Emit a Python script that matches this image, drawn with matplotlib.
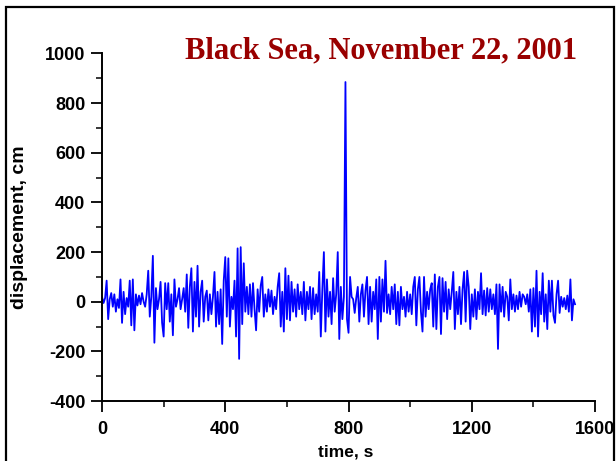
import numpy as np
import matplotlib
matplotlib.use("Agg")
import matplotlib.pyplot as plt
from matplotlib.patches import Rectangle
from matplotlib.ticker import MultipleLocator

# sea level record, one sample every 5 s
dt = 5
disp = [
    20, -5, 15, 85, -70, 10, 35, -20, 30, -40,
    10, -25, 90, -85, 40, -50, 15, -20, 85, -95,
    90, -115, 30, -15, 25, -10, 35, 0, -20, 30,
    125, -60, 20, 185, -165, 55, -30, 10, 80, -85,
    -140, 75, -30, 75, -80, 30, -135, 90, -20, 10,
    55, -30, 10, 55, -40, 110, -105, 60, 135, -120,
    80, -60, 145, -100, 40, 85, -80, 20, 45, -75,
    30, -50, 20, 120, -100, 40, -90, 50, -170, 85,
    180, -60, 175, -100, 20, -30, 85, -140, 215, -230,
    220, -90, 155, -40, 60, -50, 70, -60, 75, -30,
    -115, 50, -40, 65, 100, -60, 30, -40, 50, -20,
    45, -50, 20, -30, 60, 115, -100, 40, -120, 135,
    -70, 105, -75, 80, -40, 50, -60, 70, -30, 40,
    -50, 80, -75, 40, -30, 60, -70, 55, -50, 30,
    -40, 120, -140, 50, 200, -120, 90, -60, 40, -90,
    95, -40, 30, 200, -150, 60, -70, 20, 885, -70,
    -125, 100, 20, 10, -45, 15, 60, -80, 30, 70,
    -60, 45, 100, -90, 60, -80, 40, -30, 90, -150,
    100, -80, 90, -40, 165, -45, 30, -50, 60, -30,
    70, -90, 40, -95, 60, -30, 20, -60, 40, -40,
    30, -50, 60, 100, -95, 50, 100, -40, -120, 100,
    -60, 40, -30, 50, 75, -100, 110, -110, 60, 100,
    -130, 95, -40, 80, -70, 50, -30, 40, 120, -110,
    40, -50, 60, -90, 50, 120, -80, 125, 60, -110,
    30, -60, 50, -70, 40, -30, 115, -50, 45, -55,
    55, -40, 50, -30, 30, -50, 70, -190, 70, -40,
    60, -60, 40, 20, -75, 90, -30, 30, -40, 25,
    -30, 40, -20, 30, 20, -10, 30, -40, 50, -120,
    55, -100, 125, -140, 40, -50, 115, -80, 30, -110,
    85, -40, 85, -55, -85, 30, 85, -45, 20, -20,
    15, -30, 25, -40, 90, -75, 10, -10,
]
time = np.arange(len(disp)) * dt

title = "Black Sea, November 22, 2001"

plt.rcParams['font.family'] = ['Liberation Sans', 'DejaVu Sans']
plt.rcParams['font.weight'] = 'bold'
plt.rcParams['axes.unicode_minus'] = False

fig = plt.figure(figsize=(6.16, 4.61), dpi=100)
ax = fig.add_axes([0.1656, 0.130, 0.8004, 0.754])

ax.plot(time, disp, color='#0000ff', lw=1.3)

ax.set_xlim(0, 1600)
ax.set_ylim(-400, 1000)
ax.xaxis.set_major_locator(MultipleLocator(400))
ax.xaxis.set_minor_locator(MultipleLocator(200))
ax.yaxis.set_major_locator(MultipleLocator(200))
ax.yaxis.set_minor_locator(MultipleLocator(100))

for s in ['top', 'right']:
    ax.spines[s].set_visible(False)
for s in ['left', 'bottom']:
    ax.spines[s].set_linewidth(1.4)

ax.tick_params(which='major', direction='out', length=8, width=1.3,
               labelsize=13)
ax.tick_params(which='minor', direction='out', length=4.5, width=1.1)
ax.tick_params(axis='y', pad=4)
ax.tick_params(axis='x', pad=6)
for lab in ax.get_xticklabels() + ax.get_yticklabels():
    lab.set_fontweight('bold')
    lab.set_clip_on(False)

ax.set_ylabel("displacement, cm", fontsize=14, fontweight='bold')
ax.yaxis.set_label_coords(-0.150, 0.5)
ax.set_xlabel("time, s", fontsize=12.5, fontweight='bold', va='top')
ax.xaxis.set_label_coords(0.495, -0.125)

fig.text(0.619, 0.889, title, color='#990000', fontsize=22,
         fontweight='bold', family='Liberation Serif', ha='center',
         va='center')

# outer frame
fig.patches.append(Rectangle((6 / 616, -0.05), 608 / 616, 1.05 - 7 / 461,
                             transform=fig.transFigure, fill=False,
                             edgecolor='black', lw=1.6))

fig.savefig("out.png", dpi=100)
